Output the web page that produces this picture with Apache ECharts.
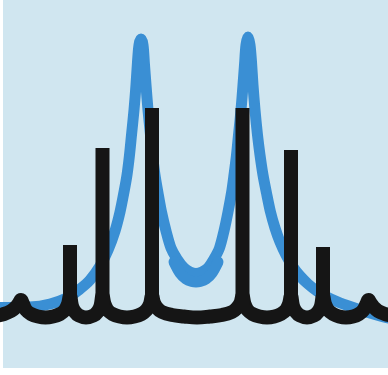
<!DOCTYPE html>
<html>
<head>
<meta charset="utf-8">
<script src="https://cdn.jsdelivr.net/npm/echarts@6.0.0/dist/echarts.min.js"></script>
<style>
  html, body { margin: 0; padding: 0; background: #fff; }
  #chart-1 { width: 388px; height: 375px; }
</style>
</head>
<body>
<div id="chart-1"></div>
<script>
// broad (blue) spectrum, x position and intensity
const blueX = [-5, 0, 30, 50, 67, 80, 90, 100, 108, 115,
  120, 124, 127, 129.5, 131.5, 134, 136, 137.5, 139, 141,
  143, 144.5, 146, 148, 150.5, 152.5, 155, 158, 161.5, 166,
  171, 177, 184, 190, 196, 202, 208, 214, 219.5, 224,
  228, 231.5, 234, 236.5, 238.5, 241, 243, 244.5, 246, 248,
  250, 251.5, 253, 255, 257.5, 260, 263, 266.5, 270.5, 275,
  280, 286, 293, 300, 308, 317, 327, 338, 350, 362,
  375, 388, 395];
const blueY = [67.5, 67.5, 68, 71, 77, 86, 95, 109, 125, 144,
  163, 183, 200, 220, 240, 265, 290, 313, 330, 336,
  330, 310, 290, 265, 240, 220, 200, 182, 163, 144,
  127, 116, 107, 103, 101.5, 103, 107, 116, 127, 144,
  163, 182, 200, 220, 240, 265, 290, 310, 330, 338,
  330, 313, 290, 265, 240, 220, 200, 182, 163, 147,
  133, 120, 108, 99, 91, 84, 78, 73, 68.5, 64.5,
  60.5, 57, 56];

// heavier ink at the bottom of the blue dip
const blueDipX = [174, 180, 186, 192, 196, 200, 206, 212, 218];
const blueDipY = [113, 102, 96, 93.5, 93, 93.5, 96, 102, 113];

// resolved (black) spectrum baseline
const blackX = [-4, 4, 11, 16, 19, 21,
  23, 26, 31, 38, 45.5, 53, 60, 65, 68, 70,
  72, 75, 79, 86, 93.5, 97.5, 100.5, 102.5,
  104.5, 107.5, 112.5, 119.5, 127, 134.5, 141.5, 146.5, 150, 152,
  154, 157, 162, 172, 184, 197, 210, 222, 232, 237, 240.5, 242.5,
  244.5, 247.5, 252.5, 259.5, 267, 274.5, 281, 286, 289, 291,
  293, 296, 300, 307, 314, 318, 321, 323,
  325, 328, 333, 339, 346, 353, 359, 363.5, 366.5, 368.5,
  370.5, 373.5, 378, 385, 393];
const blackY = [59, 61, 64, 68, 72, 75,
  71, 65, 61, 58.5, 57.5, 58.5, 61, 65, 71, 79,
  69, 63, 59.5, 57.5, 59.5, 63, 69, 79,
  71, 65, 61, 58.5, 57.5, 58.5, 61, 65, 71, 79,
  72, 67, 63, 60, 58.5, 57.5, 58.5, 60, 63, 67, 72, 79,
  71, 65, 61, 58.5, 57.5, 58.5, 61, 65, 71, 79,
  69, 63, 59.5, 57.5, 59.5, 63, 69, 79,
  71, 65, 61, 58.5, 57.5, 58.5, 61, 65, 71, 75,
  72, 68, 64, 61, 59];

// sharp lines
const spikeX = [70, 102.5, 152, 242.5, 291, 323];
const spikeTop = [130, 227, 267, 267, 225, 128];
const spikeBase = 70;

const TheChart = echarts.init(document.getElementById('chart-1'));

const blueLine = { color: '#3a8fd4', width: 11, cap: 'round', join: 'round' };

TheChart.setOption({
    animation: false,
    grid: {
        left: 3, right: 0, top: 0, bottom: 7,
        show: true,
        backgroundColor: '#d0e6f0',
        borderWidth: 0
    },
    xAxis: { type: 'value', min: 3, max: 388, show: false },
    yAxis: { type: 'value', min: 7, max: 375, show: false },
    series: [{
        name: 'broad',
        type: 'line',
        smooth: 0.3,
        symbol: 'none',
        data: blueX.map((x, i) => [x, blueY[i]]),
        lineStyle: blueLine,
        z: 1
    }, {
        name: 'broad-dip',
        type: 'line',
        smooth: 0.3,
        symbol: 'none',
        data: blueDipX.map((x, i) => [x, blueDipY[i]]),
        lineStyle: blueLine,
        z: 1
    }, {
        name: 'baseline',
        type: 'line',
        smooth: 0.4,
        symbol: 'none',
        data: blackX.map((x, i) => [x, blackY[i]]),
        lineStyle: { color: '#151515', width: 14, cap: 'butt', join: 'round' },
        z: 2
    }, {
        name: 'lines',
        type: 'custom',
        data: spikeX.map((x, i) => [x, spikeTop[i], spikeBase]),
        encode: { x: 0, y: 1 },
        renderItem: function (params, api) {
            const top = api.coord([api.value(0), api.value(1)]);
            const base = api.coord([api.value(0), api.value(2)]);
            return {
                type: 'rect',
                shape: { x: top[0] - 7, y: top[1], width: 14, height: base[1] - top[1] },
                style: { fill: '#151515' }
            };
        },
        z: 3
    }]
});
</script>
</body>
</html>
